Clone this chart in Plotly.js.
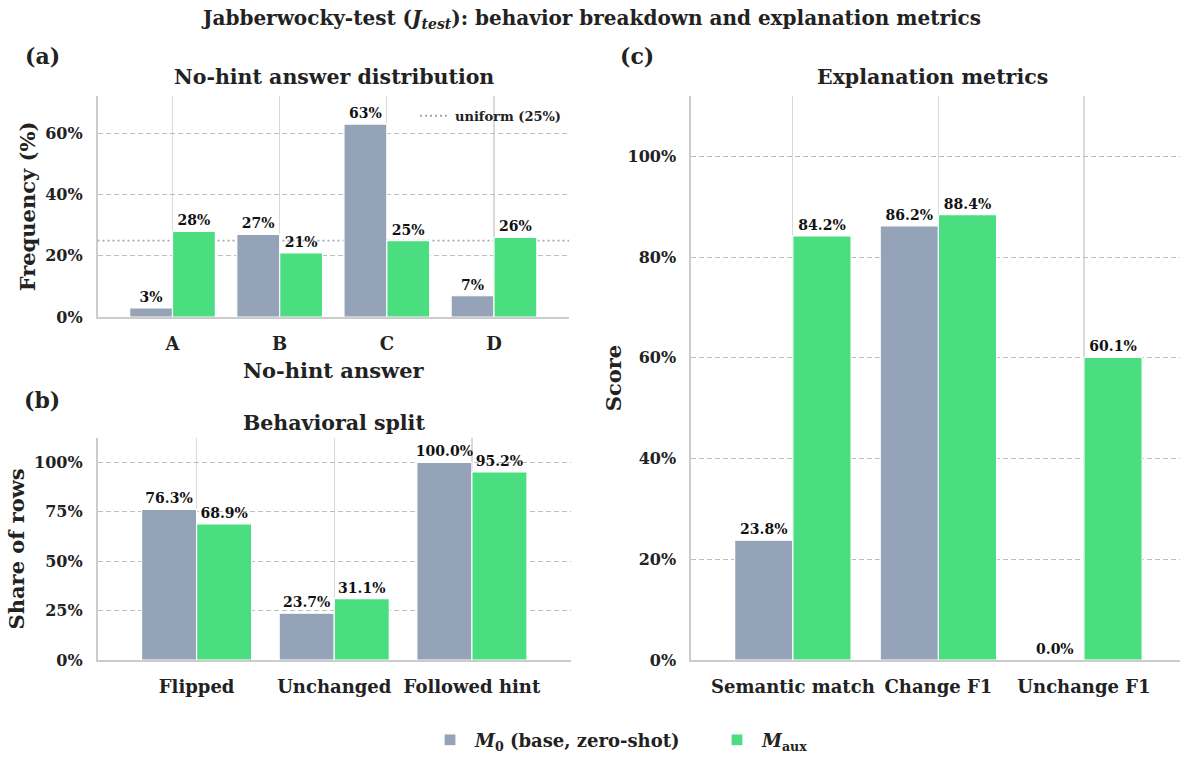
<!DOCTYPE html>
<html>
<head>
<meta charset="utf-8">
<script src="https://cdn.plot.ly/plotly-3.0.1.min.js"></script>
<style>html,body{margin:0;padding:0;background:#fff;}#chart{width:1182px;height:759px;}</style>
</head>
<body>
<div id="chart"></div>
<script>
// ---- data ----
const answerCats = ['A', 'B', 'C', 'D'];
const answerM0 = [3, 27, 63, 7];
const answerMaux = [28, 21, 25, 26];

const splitCats = ['Flipped', 'Unchanged', 'Followed hint'];
const splitM0 = [76.3, 23.7, 100.0];
const splitMaux = [68.9, 31.1, 95.2];

const metricCats = ['Semantic match', 'Change F1', 'Unchange F1'];
const metricM0 = [23.8, 86.2, 0.0];
const metricMaux = [84.2, 88.4, 60.1];

const UNIFORM = 25;
const seriesNames = ['<i>M</i><sub>0</sub> (base, zero-shot)', '<i>M</i><sub>aux</sub>'];

// ---- style ----
const FONT = 'DejaVu Serif, serif';
const C0 = '#94a3b8';
const C1 = '#4ade80';
const W = 1182, H = 759;
const px = v => v / W;
const py = v => 1 - v / H;

function barTrace(cats, vals, idx, xa, ya, fmt, showlegend, fs) {
  return {
    type: 'bar', x: cats, y: vals, name: seriesNames[idx],
    xaxis: xa, yaxis: ya, legendgroup: 's' + idx, showlegend: showlegend,
    marker: {color: idx === 0 ? C0 : C1, line: {color: '#ffffff', width: 1.2}},
    texttemplate: fmt, textposition: 'outside', cliponaxis: false,
    constraintext: 'none',
    textfont: {family: FONT, size: fs, color: '#111', weight: 'bold'},
    hoverinfo: 'skip'
  };
}

const traces = [
  barTrace(answerCats, answerM0, 0, 'x', 'y', '%{y:.0f}%', true, 14),
  barTrace(answerCats, answerMaux, 1, 'x', 'y', '%{y:.0f}%', true, 14),
  barTrace(splitCats, splitM0, 0, 'x2', 'y2', '%{y:.1f}%', false, 14),
  barTrace(splitCats, splitMaux, 1, 'x2', 'y2', '%{y:.1f}%', false, 14),
  barTrace(metricCats, metricM0, 0, 'x3', 'y3', '%{y:.1f}%', false, 14),
  barTrace(metricCats, metricMaux, 1, 'x3', 'y3', '%{y:.1f}%', false, 14)
];

function xax(domain, range, anchor) {
  return {
    domain: domain, range: range, anchor: anchor, type: 'category',
    showgrid: true, gridcolor: '#d9d9d9', gridwidth: 1.2,
    showline: true, linecolor: '#cccccc', linewidth: 1.6,
    ticks: '', ticklabelstandoff: 10, zeroline: false,
    tickfont: {family: FONT, size: 18, color: '#222', weight: 'bold'}
  };
}
function yax(domain, range, dtick, anchor, title, standoff) {
  return {
    domain: domain, range: range, anchor: anchor, dtick: dtick, tick0: 0,
    ticksuffix: '%', showgrid: true, gridcolor: '#bdbdbd', gridwidth: 1, griddash: '5px,3px',
    showline: true, linecolor: '#cccccc', linewidth: 1.6, zeroline: false,
    ticks: '', ticklabelstandoff: 10,
    tickfont: {family: FONT, size: 16, color: '#222', weight: 'bold'},
    title: {text: title, standoff: standoff, font: {family: FONT, size: 21, color: '#222', weight: 'bold'}}
  };
}

const layout = {
  width: W, height: H, autosize: false,
  margin: {l: 0, r: 0, t: 0, b: 0},
  paper_bgcolor: '#fff', plot_bgcolor: '#fff',
  font: {family: FONT, color: '#222', weight: 'bold'},
  barmode: 'group', bargap: 0.2, bargroupgap: 0,
  xaxis: Object.assign(xax([px(97.5), px(569)], [-0.7, 3.7], 'y'),
    {title: {text: 'No-hint answer', standoff: 10, font: {family: FONT, size: 21, color: '#222', weight: 'bold'}}}),
  yaxis: yax([py(321), py(97)], [0, 72.2], 20, 'x', 'Frequency (%)', 4),
  xaxis2: xax([px(97.5), px(571)], [-0.72, 2.72], 'y2'),
  yaxis2: yax([py(668), py(443)], [0, 112.5], 25, 'x2', 'Share of rows', 4),
  xaxis3: xax([px(691), px(1180)], [-0.7, 2.66], 'y3'),
  yaxis3: yax([py(668), py(97)], [0, 112], 20, 'x3', 'Score', 0),
  showlegend: true,
  legend: {
    orientation: 'h', x: px(425), xanchor: 'left', y: py(749), yanchor: 'middle',
    font: {family: FONT, size: 18, color: '#222', weight: 'bold'},
    bgcolor: 'rgba(0,0,0,0)', itemwidth: 40, traceorder: 'normal',
    entrywidth: 232, entrywidthmode: 'pixels'
  },
  legend2: {
    x: px(415), xanchor: 'left', y: py(102), yanchor: 'top',
    font: {family: FONT, size: 13, color: '#222', weight: 'bold'},
    bgcolor: 'rgba(0,0,0,0)', itemwidth: 30
  },
  shapes: [{
    type: 'line', xref: 'x domain', yref: 'y', x0: 0, x1: 1, y0: UNIFORM, y1: UNIFORM,
    line: {color: '#a3a9b6', width: 1.8, dash: '2px,3px'}, layer: 'below',
    showlegend: true, legend: 'legend2', name: 'uniform (25%)'
  }],
  annotations: [
    {text: 'Jabberwocky-test (<i>J</i><sub><i>test</i></sub>): behavior breakdown and explanation metrics',
     xref: 'paper', yref: 'paper', x: 0.5, y: py(19), xanchor: 'center', yanchor: 'middle', showarrow: false,
     font: {family: FONT, size: 20, color: '#222', weight: 'bold'}},
    {text: '(a)', xref: 'paper', yref: 'paper', x: px(42), y: py(57), xanchor: 'center', yanchor: 'middle', showarrow: false,
     font: {family: FONT, size: 22, color: '#222', weight: 'bold'}},
    {text: '(b)', xref: 'paper', yref: 'paper', x: px(42), y: py(405), xanchor: 'center', yanchor: 'middle', showarrow: false,
     font: {family: FONT, size: 22, color: '#222', weight: 'bold'}},
    {text: '(c)', xref: 'paper', yref: 'paper', x: px(637), y: py(57), xanchor: 'center', yanchor: 'middle', showarrow: false,
     font: {family: FONT, size: 22, color: '#222', weight: 'bold'}},
    {text: 'No-hint answer distribution', xref: 'paper', yref: 'paper', x: px(334), y: py(78), xanchor: 'center', yanchor: 'middle', showarrow: false,
     font: {family: FONT, size: 20.5, color: '#222', weight: 'bold'}},
    {text: 'Behavioral split', xref: 'paper', yref: 'paper', x: px(334), y: py(428), xanchor: 'center', yanchor: 'middle', showarrow: false,
     font: {family: FONT, size: 20.5, color: '#222', weight: 'bold'}},
    {text: 'Explanation metrics', xref: 'paper', yref: 'paper', x: px(932), y: py(78), xanchor: 'center', yanchor: 'middle', showarrow: false,
     font: {family: FONT, size: 20.5, color: '#222', weight: 'bold'}}
  ]
};

Plotly.newPlot('chart', traces, layout, {displayModeBar: false, staticPlot: true});
</script>
</body>
</html>
